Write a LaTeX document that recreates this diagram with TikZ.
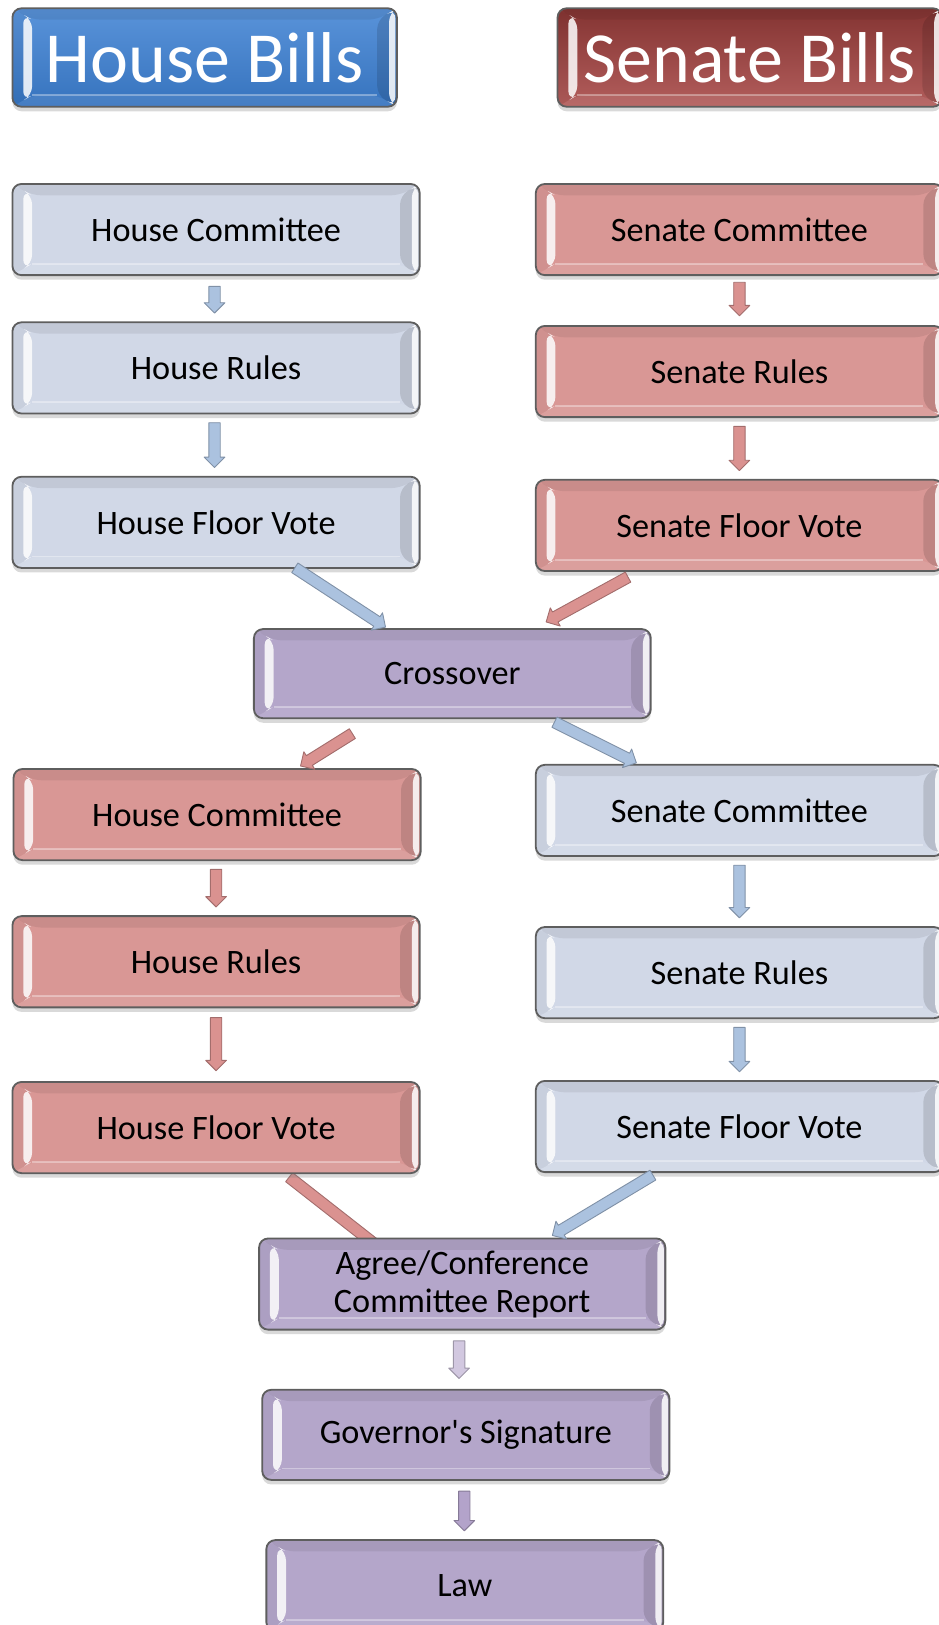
\documentclass[tikz,border=0pt]{standalone}
\usepackage{fontspec}
\setmainfont{Carlito}
\usetikzlibrary{calc,shadows,backgrounds}
\definecolor{bord}{HTML}{5E5E5E}
\definecolor{cblue}{HTML}{D1D8E7}
\definecolor{cpink}{HTML}{D99795}
\definecolor{cpurp}{HTML}{B4A6CA}
\definecolor{tblue}{HTML}{3C80D3}
\definecolor{tred}{HTML}{A5413F}
\definecolor{ablue}{HTML}{ABC2DF}
\definecolor{apink}{HTML}{DA9290}
\definecolor{apurpl}{HTML}{D2C8E0}
\definecolor{apurp}{HTML}{B3A3CA}
\newcommand\boxfont{\fontsize{18.8}{21}\selectfont}
\newcommand\titlefont{\fontsize{39.5}{44}\selectfont}
\newcommand\barr[3]{%
  \coordinate (baS) at (#2);
  \coordinate (baE) at (#3);
  \coordinate (baC) at ($(baE)!0.2cm!(baS)$);
  \draw[barrowstyle=#1] ($(baS)!0.11cm!90:(baE)$) -- ($(baC)!0.11cm!90:(baE)$)
    -- ($(baC)!0.2cm!90:(baE)$) -- (baE) -- ($(baC)!0.2cm!-90:(baE)$)
    -- ($(baC)!0.11cm!-90:(baE)$) -- ($(baS)!0.11cm!-90:(baE)$) -- cycle;}
\tikzset{
  barrowstyle/.style={fill=#1, draw=#1!75!black, line width=0.5pt, line join=round},
  box/.style={draw=bord, line width=1pt, rounded corners=5pt, fill=#1,
    minimum height=88*0.02cm, inner sep=0pt, align=center, font=\boxfont, text=black,
    drop shadow={opacity=0.3, shadow xshift=0pt, shadow yshift=-2.5pt},
    path picture={
      \path (path picture bounding box.north west) coordinate (oNW)
            (path picture bounding box.north east) coordinate (oNE)
            (path picture bounding box.south east) coordinate (oSE)
            (path picture bounding box.south west) coordinate (oSW);
      \path ([shift={(0.38cm,-0.22cm)}]oNW) coordinate (iNW)
            ([shift={(-0.38cm,-0.22cm)}]oNE) coordinate (iNE)
            ([shift={(-0.38cm,0.22cm)}]oSE) coordinate (iSE)
            ([shift={(0.38cm,0.22cm)}]oSW) coordinate (iSW);
      \fill[black, opacity=0.07] (oNW) -- (oNE) -- (iNE) -- (iNW) -- cycle;
      \fill[white, opacity=0.08] (oSW) -- (oSE) -- (iSE) -- (iSW) -- cycle;
      \draw[white, opacity=0.35, line width=1pt] (iSW) -- (iSE);
      \fill[black, opacity=0.04] (oNW) -- (iNW) -- (iSW) -- (oSW) -- cycle;
      \fill[white, opacity=0.85] (iNW) -- (iSW) -- ($(iSW)!0.45!(oSW)$) -- ($(iNW)!0.45!(oNW)$) -- cycle;
      \fill[black, opacity=0.12] (oNE) -- (iNE) -- (iSE) -- (oSE) -- cycle;
      \fill[white, opacity=0.85] ($(iNE)!0.6!(oNE)$) -- ($(iNE)!0.92!(oNE)$) -- ($(iSE)!0.92!(oSE)$) -- ($(iSE)!0.6!(oSE)$) -- cycle;
    }},
}
\begin{document}
\begin{tikzpicture}[x=0.02cm, y=-0.02cm]
\useasboundingbox (0,0) rectangle (906,1568);
\path (197.5,55.5) node[box=tblue, top color=tblue!85!white, bottom color=tblue!90!black,
  minimum width=371*0.02cm, minimum height=95*0.02cm, font=\titlefont, text=white] (hb) {House Bills};
\path (723.5,55.5) node[box=tred, top color=tred!80!black, bottom color=tred!85!white,
  minimum width=371*0.02cm, minimum height=95*0.02cm, font=\titlefont, text=white] (sb) {Senate Bills};

\node[box=cblue, minimum width=393*0.02cm] (hc1) at (208.5,221.5) {House Committee};
\node[box=cblue, minimum width=393*0.02cm] (hr1) at (208.5,355) {House Rules};
\node[box=cblue, minimum width=393*0.02cm] (hfv1) at (208.5,504) {House Floor Vote};

\node[box=cpink, minimum width=393*0.02cm] (sc2) at (713.5,221.5) {Senate Committee};
\node[box=cpink, minimum width=393*0.02cm] (sr2) at (713.5,358.5) {Senate Rules};
\node[box=cpink, minimum width=393*0.02cm] (sfv2) at (713.5,507) {Senate Floor Vote};

\node[box=cpurp, minimum width=383*0.02cm, minimum height=86*0.02cm] (cross) at (436.5,650) {Crossover};

\node[box=cpink, minimum width=393*0.02cm] (hc3) at (209.5,786) {House Committee};
\node[box=cpink, minimum width=393*0.02cm] (hr3) at (208.5,928) {House Rules};
\node[box=cpink, minimum width=393*0.02cm] (hfv3) at (208.5,1088) {House Floor Vote};

\node[box=cblue, minimum width=393*0.02cm] (sc4) at (713.5,782) {Senate Committee};
\node[box=cblue, minimum width=393*0.02cm] (sr4) at (713.5,938.5) {Senate Rules};
\node[box=cblue, minimum width=393*0.02cm] (sfv4) at (713.5,1087) {Senate Floor Vote};

\node[box=cpurp, minimum width=392*0.02cm] (agree) at (446,1239) {Agree/Conference\\Committee Report};
\node[box=cpurp, minimum width=393*0.02cm, minimum height=87*0.02cm] (gov) at (449.5,1384.5) {Governor\textquotesingle s Signature};
\node[box=cpurp, minimum width=383*0.02cm] (law) at (448.5,1530) {Law};

\begin{scope}[on background layer]
\barr{apink}{$(hfv3.south)+(70.5,3)$}{$(agree.north)+(-62,24)$}
\end{scope}
\barr{ablue}{$(hc1.south)+(-1.5,10)$}{$(hr1.north)+(-1.5,-8)$}
\barr{ablue}{$(hr1.south)+(-1.5,8)$}{$(hfv1.north)+(-1.5,-8)$}
\barr{apink}{$(sc2.south)+(0,6)$}{$(sr2.north)+(0,-9)$}
\barr{apink}{$(sr2.south)+(0,8)$}{$(sfv2.north)+(0,-8)$}
\barr{ablue}{$(hfv1.south)+(76,-1)$}{$(cross.north)+(-64.5,-1)$}
\barr{apink}{$(sfv2.south)+(-107.5,5)$}{$(cross.north)+(90.5,-6)$}
\barr{apink}{$(cross.south)+(-96.5,14)$}{$(hc3.north)+(80.5,-2)$}
\barr{ablue}{$(cross.south)+(98.5,3)$}{$(sc4.north)+(-99.5,-1)$}
\barr{apink}{$(hc3.south)+(-1,8)$}{$(hr3.north)+(0,-8)$}
\barr{apink}{$(hr3.south)+(0,9)$}{$(hfv3.north)+(0,-10)$}
\barr{ablue}{$(sc4.south)+(0,8)$}{$(sr4.north)+(0,-8)$}
\barr{ablue}{$(sr4.south)+(0,8)$}{$(sfv4.north)+(0,-8)$}
\barr{ablue}{$(sfv4.south)+(-83.5,2)$}{$(agree.north)+(87,-2)$}
\barr{apurpl}{$(agree.south)+(-3,10)$}{$(gov.north)+(-6.5,-10)$}
\barr{apurp}{$(gov.south)+(-1.5,10)$}{$(law.north)+(-0.5,-8)$}
\end{tikzpicture}
\end{document}
